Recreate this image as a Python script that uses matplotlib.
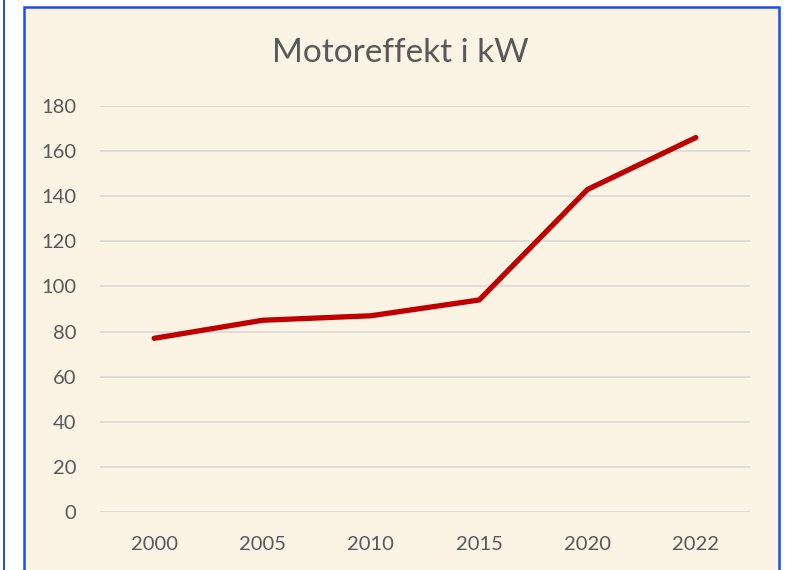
import matplotlib.pyplot as plt
from matplotlib.patches import Rectangle
from matplotlib.lines import Line2D

# data
years = ['2000', '2005', '2010', '2015', '2020', '2022']
kw = [77, 85, 87, 94, 143, 166]
yticks = [0, 20, 40, 60, 80, 100, 120, 140, 160, 180]

plt.rcParams['font.family'] = ['Lato', 'DejaVu Sans']

W, H = 785, 570
fig = plt.figure(figsize=(W / 100, H / 100), dpi=100, facecolor='white')

# chart box with blue border (open at bottom, cut off)
fig.patches.append(Rectangle((24 / W, -0.05), (779 - 24) / W, (H - 7) / H + 0.05,
                             transform=fig.transFigure, facecolor='#FBF3E4',
                             edgecolor='#1F4BF5', linewidth=1.8, zorder=-5))
# thin blue line of the neighbouring box on the far left
fig.lines.append(Line2D([3.5 / W, 3.5 / W], [0, 1], transform=fig.transFigure,
                        color='#1F4BF5', linewidth=1.4, zorder=-5))

ax = fig.add_axes([100 / W, (H - 512) / H, 650 / W, (512 - 106) / H])
ax.set_zorder(1)
ax.set_facecolor('none')
x = range(len(years))
ax.plot(x, kw, color='#C00000', linewidth=3.8, solid_capstyle='round',
        solid_joinstyle='round', zorder=3)

ax.set_xlim(-0.5, len(years) - 0.5)
ax.set_ylim(0, 180)
ax.set_xticks(list(x))
ax.set_xticklabels(years)
ax.set_yticks(yticks)
ax.grid(axis='y', color='#DEDBD6', linewidth=1.3)
ax.set_axisbelow(True)
for s in ax.spines.values():
    s.set_visible(False)
ax.tick_params(length=0, labelsize=14.5, colors='#595959')
ax.tick_params(axis='y', pad=17)
ax.tick_params(axis='x', pad=17)

fig.text(400 / W, 1 - 53 / H, 'Motoreffekt i kW', ha='center', va='center',
         fontsize=24, color='#595959')

fig.savefig('out.png', dpi=100, facecolor='white')
